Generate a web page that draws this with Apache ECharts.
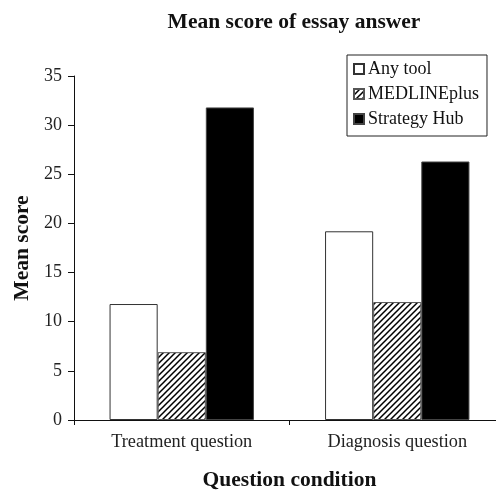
<!DOCTYPE html>
<html>
<head>
<meta charset="utf-8">
<script src="https://cdn.jsdelivr.net/npm/echarts@6/dist/echarts.min.js"></script>
<style>html,body{margin:0;padding:0;background:#fff}#c{width:496px;height:491px}</style>
</head>
<body>
<div id="c"></div>
<script>
var categories = ['Treatment question', 'Diagnosis question'];
var seriesNames = ['Any tool', 'MEDLINEplus', 'Strategy Hub'];
var anyTool = [11.8, 19.2];
var medlinePlus = [6.9, 12.0];
var strategyHub = [31.8, 26.3];
var yTicks = [0, 5, 10, 15, 20, 25, 30, 35];

var FONT = '"Liberation Serif", "Times New Roman", serif';

function hatch() {
  var c = document.createElement('canvas');
  c.width = 6; c.height = 6;
  var g = c.getContext('2d');
  g.fillStyle = '#fff'; g.fillRect(0, 0, 6, 6);
  g.strokeStyle = '#000'; g.lineWidth = 1.5;
  g.beginPath();
  g.moveTo(-1, 7); g.lineTo(7, -1);
  g.moveTo(-4, 4); g.lineTo(4, -4);
  g.moveTo(2, 10); g.lineTo(10, 2);
  g.stroke();
  return c;
}
var hatchPattern = { image: hatch(), repeat: 'repeat' };

var chart = echarts.init(document.getElementById('c'), null, { renderer: 'canvas' });
chart.setOption({
  animation: false,
  backgroundColor: '#fff',
  textStyle: { fontFamily: FONT, color: '#111' },
  title: {
    text: 'Mean score of essay answer',
    left: 289, top: 6, textAlign: 'center',
    textStyle: { fontFamily: FONT, fontWeight: 'bold', fontSize: 21.5, color: '#111' }
  },
  legend: {
    orient: 'vertical',
    left: 347, top: 55,
    padding: [5, 8, 8, 6],
    itemGap: 7,
    itemWidth: 10, itemHeight: 10,
    icon: 'rect',
    borderColor: '#222', borderWidth: 1,
    textStyle: { fontFamily: FONT, fontSize: 18, color: '#111', padding: [0, 0, 0, -1] },
    data: seriesNames
  },
  grid: { left: 74, right: -9, top: 76, bottom: 71, outerBoundsMode: 'none', containLabel: false },
  xAxis: {
    type: 'category',
    data: categories,
    name: 'Question condition',
    nameLocation: 'middle',
    nameGap: 49,
    nameTextStyle: { fontFamily: FONT, fontWeight: 'bold', fontSize: 21.5, color: '#111' },
    axisLine: { lineStyle: { color: '#111', width: 1 } },
    axisTick: { show: true, length: 5, lineStyle: { color: '#111' } },
    axisLabel: { fontFamily: FONT, fontSize: 18.3, color: '#222', margin: 13 }
  },
  yAxis: {
    type: 'value',
    min: 0, max: 35, interval: 5,
    name: 'Mean score',
    nameLocation: 'middle',
    nameGap: 34,
    nameRotate: 90,
    nameTextStyle: { fontFamily: FONT, fontWeight: 'bold', fontSize: 21.5, color: '#111' },
    axisLine: { show: true, lineStyle: { color: '#111', width: 1 } },
    axisTick: { show: true, length: 6, lineStyle: { color: '#111' } },
    splitLine: { show: false },
    axisLabel: {
      fontFamily: FONT, fontSize: 18, color: '#222', margin: 12,
      formatter: function (v) { return yTicks.indexOf(v) >= 0 ? String(v) : ''; }
    }
  },
  series: [
    { name: seriesNames[0], type: 'bar', data: anyTool, barGap: '0%', barCategoryGap: '33%',
      itemStyle: { color: '#fff', borderColor: '#333', borderWidth: 1 } },
    { name: seriesNames[1], type: 'bar', data: medlinePlus, barGap: '0%', barCategoryGap: '33%',
      itemStyle: { color: hatchPattern, borderColor: '#555', borderWidth: 1 } },
    { name: seriesNames[2], type: 'bar', data: strategyHub, barGap: '0%', barCategoryGap: '33%',
      itemStyle: { color: '#000', borderColor: '#444', borderWidth: 1 } }
  ]
});
</script>
</body>
</html>
